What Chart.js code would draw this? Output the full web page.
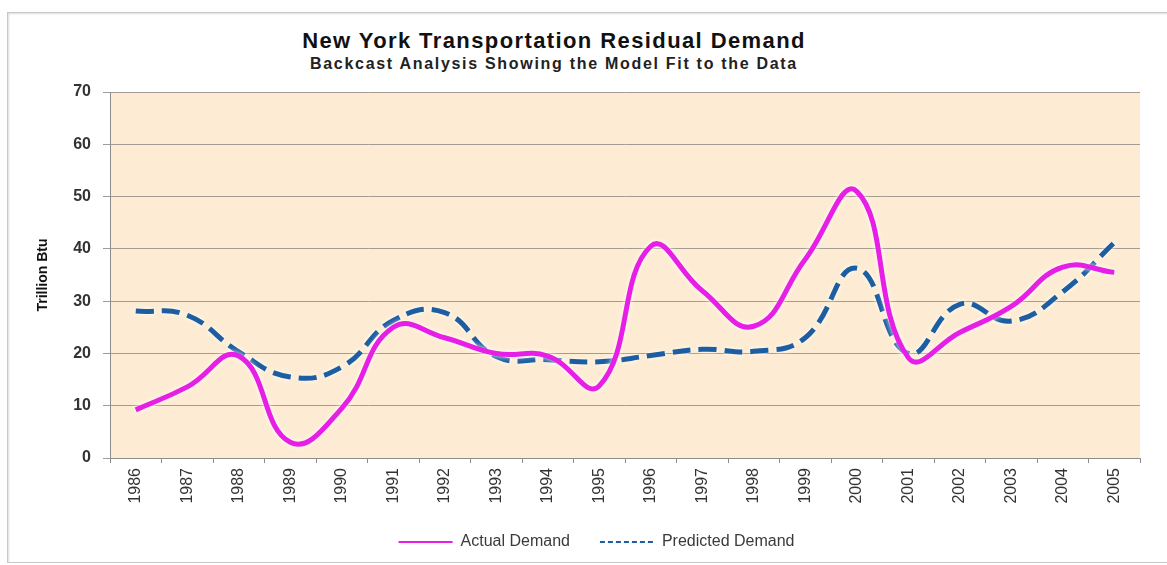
<!DOCTYPE html>
<html>
<head>
<meta charset="utf-8">
<script src="https://cdn.jsdelivr.net/npm/chart.js@4.4.1/dist/chart.umd.min.js"></script>
<style>
  html, body { margin: 0; padding: 0; background: #fff; }
  #wrap { position: relative; width: 1167px; height: 565px; overflow: hidden; }
  #frame {
    position: absolute; left: 7px; top: 12px; width: 1180px; height: 549px;
    border: 1px solid #c8c8c8; box-shadow: 1px 1px 2px #ddd inset;
  }
  #title, #subtitle {
    position: absolute; left: 204px; width: 700px; text-align: center;
    font-family: "Liberation Sans", Arial, sans-serif; font-weight: bold; color: #111;
  }
  #title { top: 28px; font-size: 22px; letter-spacing: 1.4px; }
  #subtitle { top: 55px; font-size: 16px; letter-spacing: 1.7px; color: #222; }
  canvas { position: absolute; left: 0; top: 0; }
</style>
</head>
<body>
<div id="wrap">
  <div id="frame"></div>
  <div id="title">New York Transportation Residual Demand</div>
  <div id="subtitle">Backcast Analysis Showing the Model Fit to the Data</div>
  <canvas id="demandChart" width="1167" height="565"></canvas>
</div>
<script>
const years = ['1986', '1987', '1988', '1989', '1990', '1991', '1992', '1993', '1994', '1995',
               '1996', '1997', '1998', '1999', '2000', '2001', '2002', '2003', '2004', '2005']
const actualDemand = [9.2, 13.6, 19.5, 3.0, 9.5, 25.0, 23.0, 20.0, 19.5, 13.8,
                      40.5, 32.0, 25.2, 38.0, 51.0, 19.2, 24.0, 29.0, 36.5, 35.5]
const predictedDemand = [28.1, 27.3, 20.3, 15.5, 17.4, 26.3, 27.8, 19.4, 18.8, 18.4,
                         19.6, 20.8, 20.4, 23.0, 36.3, 20.0, 29.4, 26.2, 31.8, 41.2]
const yTicks = [0, 10, 20, 30, 40, 50, 60, 70]

const fontFamily = '"Liberation Sans", Arial, sans-serif'

// peach fill behind the plot area
const plotBackground = {
    id: 'plotBackground',
    beforeDraw(chart) {
        const {ctx, chartArea: a} = chart
        ctx.save()
        ctx.fillStyle = '#fdecd3'
        ctx.fillRect(a.left, a.top, a.right - a.left, a.bottom - a.top)
        ctx.restore()
    }
}

// soft white glow around the series lines
const lineGlow = {
    id: 'lineGlow',
    beforeDatasetsDraw(chart) {
        chart.ctx.save()
        chart.ctx.shadowColor = 'rgba(255,255,255,0.95)'
        chart.ctx.shadowBlur = 5
    },
    afterDatasetsDraw(chart) {
        chart.ctx.restore()
    }
}

// nudge the legend row a bit to the right of the canvas centre
const legendShift = {
    id: 'legendShift',
    afterLayout(chart) {
        chart.legend.left += 9
        chart.legend.right += 9
    }
}

new Chart(document.getElementById('demandChart').getContext('2d'), {
    type: 'line',
    data: {
        labels: years,
        datasets: [{
            label: 'Actual Demand',
            data: actualDemand,
            borderColor: '#e61ee6',
            backgroundColor: '#e61ee6',
            borderWidth: 5,
            pointRadius: 0,
            tension: 0.45,
            fill: false
        }, {
            label: 'Predicted Demand',
            data: predictedDemand,
            borderColor: '#1d5ea2',
            backgroundColor: '#1d5ea2',
            borderWidth: 5,
            borderDash: [18, 8],
            pointRadius: 0,
            tension: 0.45,
            fill: false
        }]
    },
    options: {
        responsive: false,
        animation: false,
        layout: {
            padding: {top: 92, right: 27, left: 35, bottom: 5}
        },
        scales: {
            x: {
                offset: true,
                grid: {
                    offset: true,
                    drawOnChartArea: false,
                    drawTicks: true,
                    tickLength: 5,
                    color: '#8c8c8c'
                },
                border: {color: '#8c8c8c'},
                ticks: {
                    autoSkip: false,
                    minRotation: 90,
                    maxRotation: 90,
                    padding: 5,
                    color: '#333',
                    font: {family: fontFamily, size: 16}
                },
                afterFit(scale) {
                    scale.height = 46
                }
            },
            y: {
                min: 0,
                max: 70,
                afterBuildTicks(scale) {
                    scale.ticks = yTicks.map(v => ({value: v}))
                },
                grid: {
                    color: '#a39c92',
                    tickLength: 7,
                    lineWidth: 1
                },
                border: {color: '#8c8c8c'},
                ticks: {
                    padding: 12,
                    color: '#333',
                    font: {family: fontFamily, size: 16, weight: 'bold'}
                },
                title: {
                    display: true,
                    text: 'Trillion Btu',
                    color: '#111',
                    padding: {top: 0, bottom: 0},
                    font: {family: fontFamily, size: 14, weight: 'bold'}
                },
                afterFit(scale) {
                    scale.width = 75
                }
            }
        },
        plugins: {
            legend: {
                position: 'bottom',
                labels: {
                    usePointStyle: true,
                    pointStyle: 'line',
                    pointStyleWidth: 54,
                    padding: 30,
                    color: '#3a3a3a',
                    font: {family: fontFamily, size: 16},
                    generateLabels(chart) {
                        return Chart.defaults.plugins.legend.labels.generateLabels(chart).map(item => {
                            item.lineWidth = 2
                            item.pointStyle = 'line'
                            if (item.datasetIndex === 1) item.lineDash = [5, 3]
                            return item
                        })
                    }
                }
            },
            tooltip: {enabled: false}
        }
    },
    plugins: [plotBackground, lineGlow, legendShift]
})
</script>
</body>
</html>
